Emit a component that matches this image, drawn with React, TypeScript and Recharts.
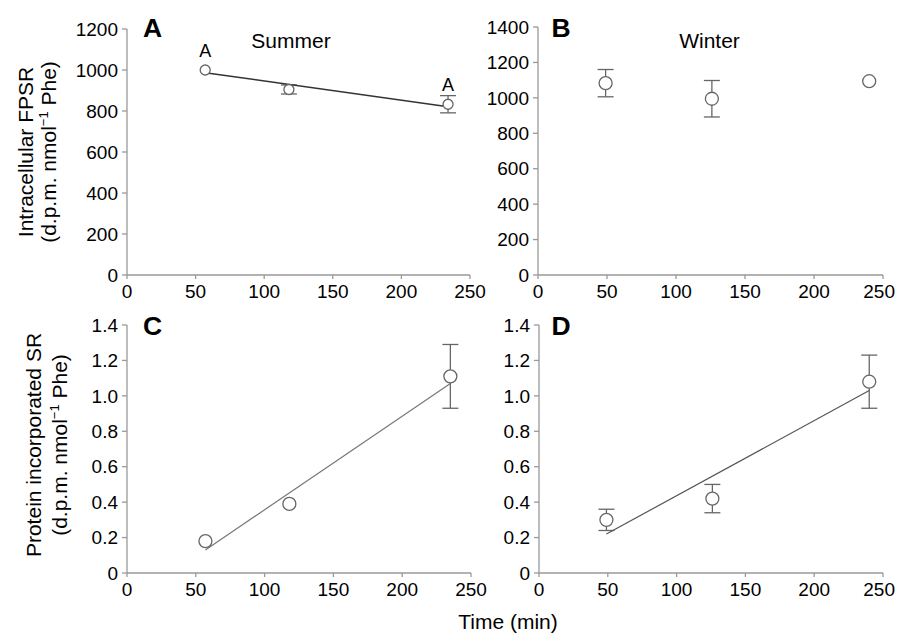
import React from "react";
import { ScatterChart, Scatter, XAxis, YAxis, ErrorBar } from "recharts";

// Panel A – summer intracellular FPSR (null = error bar hidden behind the marker)
const summerFpsrTime = [57, 118, 234];
const summerFpsr = [1000, 905, 833];
const summerFpsrErr = [null, 22, 42];
const summerFpsrSig = ["A", "", "A"];
const summerFpsrFitTime = [57, 234];
const summerFpsrFit = [987, 821];

// Panel B – winter intracellular FPSR
const winterFpsrTime = [49, 126, 240];
const winterFpsr = [1083, 995, 1094];
const winterFpsrErr = [77, 103, null];

// Panel C – summer protein incorporated SR
const summerSrTime = [57, 118, 235];
const summerSr = [0.18, 0.39, 1.11];
const summerSrErr = [null, null, 0.18];
const summerSrFitTime = [57, 235];
const summerSrFit = [0.13, 1.07];

// Panel D – winter protein incorporated SR
const winterSrTime = [49, 126, 240];
const winterSr = [0.3, 0.42, 1.08];
const winterSrErr = [0.06, 0.08, 0.15];
const winterSrFitTime = [49, 240];
const winterSrFit = [0.22, 1.03];

// axes
const timeTicks = [0, 50, 100, 150, 200, 250];
const fpsrTicksA = [0, 200, 400, 600, 800, 1000, 1200];
const fpsrTicksB = [0, 200, 400, 600, 800, 1000, 1200, 1400];
const srTicks = [0, 0.2, 0.4, 0.6, 0.8, 1.0, 1.2, 1.4];

const FONT = "'Liberation Sans', Arial, sans-serif";
const AXIS = "#999";

type Pt = { x: number; y: number; err?: number | null; sig?: string };

const toPoints = (
  xs: number[],
  ys: number[],
  errs?: (number | null)[],
  sig?: string[]
): Pt[] =>
  xs.map((x, i) => ({ x, y: ys[i], err: errs ? errs[i] : null, sig: sig ? sig[i] : "" }));

const srFmt = (v: number) => (v === 0 ? "0" : v.toFixed(1));

// x tick; on the right-hand panels the last label sits against the page edge
const makeXTick = (edge: boolean) => (props: any) => {
  const { x, y, payload } = props;
  const last = edge && payload.value === 250;
  return (
    <text
      x={last ? x + 12 : x}
      y={y}
      dy="0.71em"
      textAnchor={last ? "end" : "middle"}
      fontSize={19}
      fill="#000"
    >
      {payload.value}
    </text>
  );
};

interface PanelProps {
  left: number;
  top: number;
  width: number;
  height: number;
  margin: { top: number; right: number; left: number; bottom: number };
  yWidth: number;
  xHeight: number;
  yMax: number;
  yTicks: number[];
  yFmt?: (v: number) => string;
  points: Pt[];
  fit?: Pt[];
  r: number;
  fitStroke?: string;
  fitWidth?: number;
  edge?: boolean;
}

function Panel(p: PanelProps) {
  const dot = (props: any) => {
    const { cx, cy, payload } = props;
    return (
      <g>
        <circle cx={cx} cy={cy} r={p.r} fill="#fff" stroke="#666" strokeWidth={1.3} />
        {payload.sig ? (
          <text x={cx} y={cy - 13} textAnchor="middle" fontSize={18} fill="#000" fontFamily={FONT}>
            {payload.sig}
          </text>
        ) : null}
      </g>
    );
  };
  return (
    <div style={{ position: "absolute", left: p.left, top: p.top }}>
      <ScatterChart width={p.width} height={p.height} margin={p.margin}>
        <XAxis
          type="number"
          dataKey="x"
          domain={[0, 250]}
          ticks={timeTicks}
          interval={0}
          height={p.xHeight}
          stroke={AXIS}
          strokeWidth={1.3}
          tickSize={4}
          tickMargin={6}
          tick={makeXTick(!!p.edge)}
        />
        <YAxis
          type="number"
          dataKey="y"
          domain={[0, p.yMax]}
          ticks={p.yTicks}
          interval={0}
          width={p.yWidth}
          stroke={AXIS}
          strokeWidth={1.3}
          tickSize={5}
          tickMargin={4}
          tickFormatter={p.yFmt}
          tick={{ fontSize: 19, fill: "#000" }}
        />
        {p.fit && (
          <Scatter
            data={p.fit}
            line={{ stroke: p.fitStroke || "#777", strokeWidth: p.fitWidth || 1.2 }}
            shape={() => <g />}
            isAnimationActive={false}
          />
        )}
        <Scatter data={p.points} shape={dot} isAnimationActive={false}>
          <ErrorBar dataKey="err" direction="y" width={8} stroke="#666" strokeWidth={1.3} />
        </Scatter>
      </ScatterChart>
    </div>
  );
}

export default function App() {
  return (
    <div
      style={{
        position: "absolute",
        left: 0,
        top: 0,
        width: 897,
        height: 634,
        background: "#fff",
        fontFamily: FONT,
        overflow: "hidden",
      }}
    >
      <Panel
        left={0}
        top={0}
        width={500}
        height={310}
        margin={{ top: 29, right: 30, left: 0, bottom: 0 }}
        yWidth={127}
        xHeight={35}
        yMax={1200}
        yTicks={fpsrTicksA}
        points={toPoints(summerFpsrTime, summerFpsr, summerFpsrErr, summerFpsrSig)}
        fit={toPoints(summerFpsrFitTime, summerFpsrFit)}
        r={5}
        fitStroke="#333"
        fitWidth={1.5}
      />
      <Panel
        left={440}
        top={0}
        width={457}
        height={310}
        margin={{ top: 27, right: 14, left: 0, bottom: 0 }}
        yWidth={98}
        xHeight={35}
        yMax={1400}
        yTicks={fpsrTicksB}
        points={toPoints(winterFpsrTime, winterFpsr, winterFpsrErr)}
        r={6.5}
        edge
      />
      <Panel
        left={0}
        top={310}
        width={500}
        height={324}
        margin={{ top: 15, right: 29, left: 0, bottom: 0 }}
        yWidth={127}
        xHeight={61}
        yMax={1.4}
        yTicks={srTicks}
        yFmt={srFmt}
        points={toPoints(summerSrTime, summerSr, summerSrErr)}
        fit={toPoints(summerSrFitTime, summerSrFit)}
        r={6.5}
      />
      <Panel
        left={440}
        top={310}
        width={457}
        height={324}
        margin={{ top: 15, right: 14, left: 0, bottom: 0 }}
        yWidth={99}
        xHeight={61}
        yMax={1.4}
        yTicks={srTicks}
        yFmt={srFmt}
        points={toPoints(winterSrTime, winterSr, winterSrErr)}
        fit={toPoints(winterSrFitTime, winterSrFit)}
        r={6.5}
        fitStroke="#555"
        edge
      />
      {/* annotations */}
      <svg
        width={897}
        height={634}
        style={{ position: "absolute", left: 0, top: 0, pointerEvents: "none" }}
        fontFamily={FONT}
      >
        <g fontSize={26.5} fontWeight="bold" textAnchor="middle" fill="#000">
          <text x={152.5} y={37}>A</text>
          <text x={561} y={37}>B</text>
          <text x={152.5} y={335}>C</text>
          <text x={561} y={335}>D</text>
        </g>
        <g fontSize={21} textAnchor="middle" fill="#000">
          <text x={291} y={48}>Summer</text>
          <text x={709.5} y={48}>Winter</text>
          <text x={508} y={629}>Time (min)</text>
          <text transform="translate(33,152) rotate(-90)">Intracellular FPSR</text>
          <text transform="translate(56,152) rotate(-90)">
            (d.p.m. nmol
            <tspan dy={-8} fontSize={13}>−1</tspan>
            <tspan dy={8}> Phe)</tspan>
          </text>
          <text transform="translate(41,445) rotate(-90)">Protein incorporated SR</text>
          <text transform="translate(67,445) rotate(-90)">
            (d.p.m. nmol
            <tspan dy={-8} fontSize={13}>−1</tspan>
            <tspan dy={8}> Phe)</tspan>
          </text>
        </g>
      </svg>
    </div>
  );
}
